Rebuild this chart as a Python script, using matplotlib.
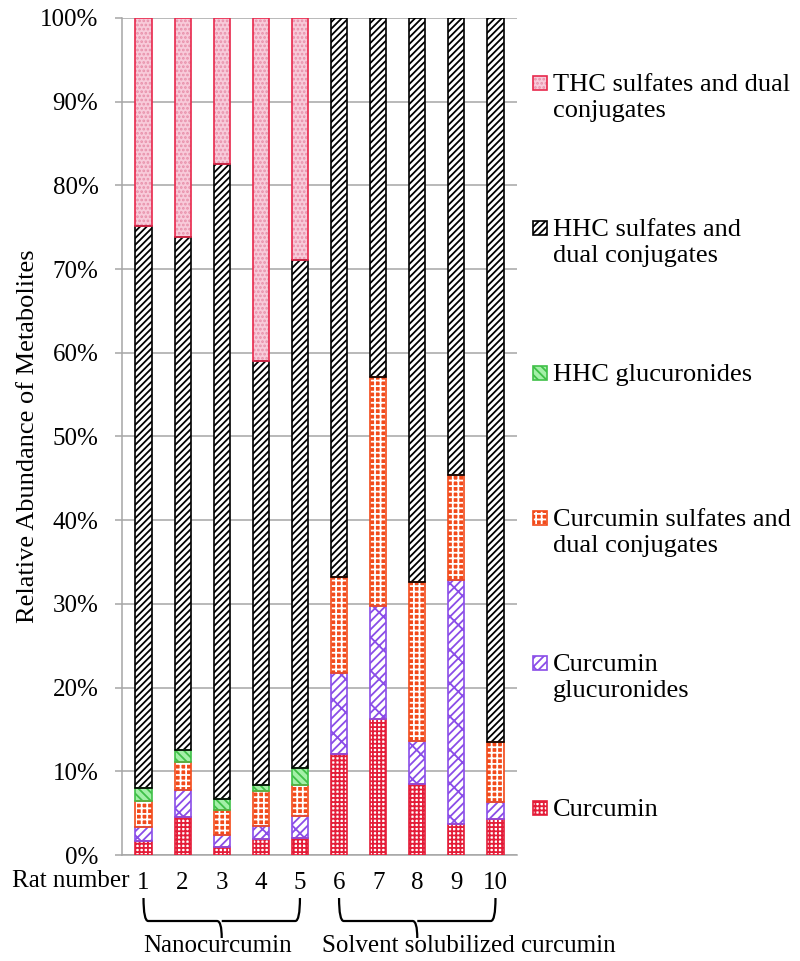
import matplotlib.pyplot as plt
import numpy as np
from matplotlib.patches import Rectangle, PathPatch
from matplotlib.path import Path
import matplotlib.transforms as mtransforms

plt.rcParams['font.family'] = ['Liberation Serif', 'DejaVu Serif']
plt.rcParams['hatch.linewidth'] = 1.3

# data (percent of total metabolites per rat)
rats = ['1', '2', '3', '4', '5', '6', '7', '8', '9', '10']
curcumin = [1.7, 4.5, 0.9, 1.95, 2.0, 12.1, 16.3, 8.5, 3.7, 4.3]
curcumin_gluc = [1.7, 3.3, 1.5, 1.55, 2.6, 9.7, 13.4, 5.15, 29.2, 2.0]
curcumin_sulf = [3.1, 3.3, 3.0, 4.1, 3.8, 11.45, 27.4, 18.95, 12.5, 7.15]
hhc_gluc = [1.5, 1.4, 1.25, 0.8, 2.0, 0, 0, 0, 0, 0]
hhc_sulf = [67.1, 61.3, 75.85, 50.6, 60.7, 66.75, 42.9, 67.4, 54.6, 86.55]
thc_sulf = [24.9, 26.2, 17.5, 41.0, 28.9, 0, 0, 0, 0, 0]

series = [curcumin, curcumin_gluc, curcumin_sulf, hhc_gluc, hhc_sulf, thc_sulf]
labels = ['Curcumin', 'Curcumin\nglucuronides', 'Curcumin sulfates and\ndual conjugates',
          'HHC glucuronides', 'HHC sulfates and\ndual conjugates', 'THC sulfates and dual\nconjugates']
groups = ['Nanocurcumin', 'Solvent solubilized curcumin']

# (face, hatch colour, hatch, outline)
styles = [
    ('white', '#E41C38', '++++', '#E41C38'),
    ('white', '#8A4DE8', '////\\', '#8A4DE8'),
    ('#F24A1A', 'white', '+++', '#F24A1A'),
    ('#A4F0A8', '#40C048', '\\\\\\\\', '#40C048'),
    ('white', 'black', '/////', 'black'),
    ('#F8CBDA', '#E890AA', '....', '#E8284C'),
]

fig = plt.figure(figsize=(8, 9.61), dpi=100)
ax = fig.add_axes([122 / 800, 1 - 855 / 961, 395 / 800, 837 / 961])

x = np.arange(len(rats))
width = 0.41
bottom = np.zeros(len(rats))
for vals, (face, hc, hatch, edge) in zip(series, styles):
    vals = np.array(vals, dtype=float)
    m = vals > 0
    ax.bar(x[m], vals[m], width, bottom=bottom[m], color=face, edgecolor=hc,
           hatch=hatch, linewidth=0, zorder=3)
    ax.bar(x[m], vals[m], width, bottom=bottom[m], fill=False, edgecolor=edge,
           linewidth=1.2, zorder=4)
    bottom += vals

ax.set_xlim(-0.55, len(rats) - 0.45)
ax.set_ylim(0, 100)
ax.set_yticks(np.arange(0, 101, 10))
ax.set_yticklabels([f'{v}%' for v in range(0, 101, 10)], fontsize=18)
ax.yaxis.grid(True, color='#A6A6A6', linewidth=1.1, zorder=0)
ax.set_axisbelow(True)
ax.tick_params(axis='y', length=5, color='#A6A6A6', width=1.1, pad=12)
ax.set_xticks(x)
ax.set_xticklabels(rats, fontsize=18)
ax.tick_params(axis='x', length=0, pad=12)
for s in ['top', 'right']:
    ax.spines[s].set_visible(False)
ax.spines['left'].set_color('#A6A6A6')
ax.spines['bottom'].set_color('#A6A6A6')
ax.spines['left'].set_linewidth(1.1)
ax.spines['bottom'].set_linewidth(1.1)
ax.set_ylabel('Relative Abundance of Metabolites', fontsize=19, labelpad=1)

fig.text(129 / 800, 1 - 881 / 961, 'Rat number', fontsize=18, ha='right', va='center')

# braces under the rat groups
trans = mtransforms.blended_transform_factory(ax.transData, fig.transFigure)
y_top, y_mid, y_tip = 1 - 898 / 961, 1 - 921 / 961, 1 - 938 / 961
r = 0.12
for i0, i1 in [(0, 4), (5, 9)]:
    xc = (x[i0] + x[i1]) / 2
    verts = [(x[i0], y_top), (x[i0], y_mid), (x[i0] + r, y_mid),
             (xc - r, y_mid), (xc, y_mid), (xc, y_tip),
             (xc, y_mid), (xc + r, y_mid),
             (x[i1] - r, y_mid), (x[i1], y_mid), (x[i1], y_top)]
    codes = [Path.MOVETO, Path.CURVE3, Path.CURVE3,
             Path.LINETO, Path.CURVE3, Path.CURVE3,
             Path.MOVETO, Path.LINETO,
             Path.LINETO, Path.CURVE3, Path.CURVE3]
    fig.add_artist(PathPatch(Path(verts, codes), transform=trans, fill=False,
                             edgecolor='black', linewidth=1.6, clip_on=False))

fig.text(218 / 800, 1 - 946 / 961, groups[0], fontsize=18, ha='center', va='center')
fig.text(322 / 800, 1 - 946 / 961, groups[1], fontsize=18, ha='left', va='center')

# legend, top entry first
for k, i in enumerate(range(len(series) - 1, -1, -1)):
    face, hc, hatch, edge = styles[i]
    yc = 83 + k * 145
    fig.add_artist(Rectangle((533 / 800, 1 - (yc + 7) / 961), 14 / 800, 14 / 961,
                             transform=fig.transFigure, facecolor=face, edgecolor=hc,
                             hatch=hatch, linewidth=0))
    fig.add_artist(Rectangle((533 / 800, 1 - (yc + 7) / 961), 14 / 800, 14 / 961,
                             transform=fig.transFigure, fill=False,
                             edgecolor=edge, linewidth=1.2))
    fig.text(553 / 800, 1 - (yc - 9) / 961, labels[i], fontsize=19,
             ha='left', va='top', linespacing=1.25)

fig.savefig('out.png', dpi=100)
